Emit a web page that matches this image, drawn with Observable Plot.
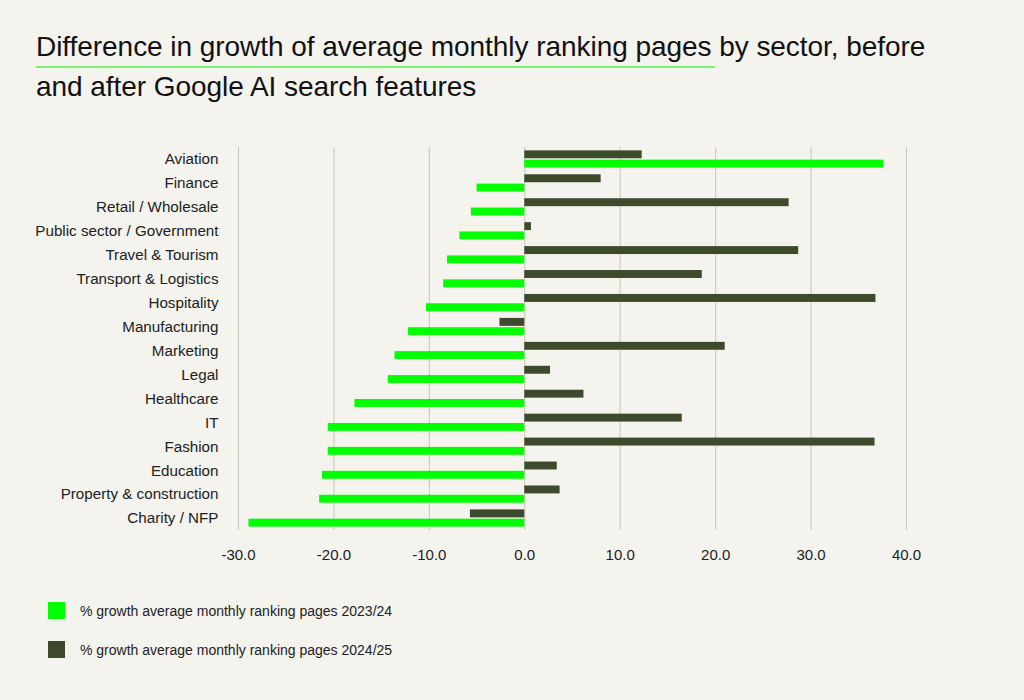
<!DOCTYPE html>
<html>
<head>
<meta charset="utf-8">
<script src="https://cdn.jsdelivr.net/npm/d3@7"></script>
<script src="https://cdn.jsdelivr.net/npm/@observablehq/plot@0.6"></script>
<style>
  html, body { margin: 0; padding: 0; background: #f4f3ee; }
  #page { position: relative; width: 1024px; height: 700px; background: #f4f3ee; font-family: "Liberation Sans", Arial, Helvetica, sans-serif; color: #1a1a1a; overflow: hidden; }
  #title { position: absolute; left: 36px; top: 27px; width: 912px; font-size: 28px; letter-spacing: -0.05px; line-height: 40px; color: #111; }
  #underline { position: absolute; left: 36px; top: 66px; width: 679px; height: 2px; background: #7ef07e; }
  #chart { position: absolute; left: 0; top: 120px; }
  .legend-item { position: absolute; left: 48px; display: flex; align-items: center; font-size: 14px; color: #222; }
  .legend-item .sw { width: 17px; height: 17px; margin-right: 15px; }
</style>
</head>
<body>
<div id="page">
  <div id="title">Difference in growth of average monthly ranking pages by sector, before and after Google AI search features</div>
  <div id="underline"></div>
  <div id="chart"></div>
  <div id="legend"></div>
</div>
<script>
const sectors = ["Aviation", "Finance", "Retail / Wholesale", "Public sector / Government", "Travel & Tourism", "Transport & Logistics", "Hospitality", "Manufacturing", "Marketing", "Legal", "Healthcare", "IT", "Fashion", "Education", "Property & construction", "Charity / NFP"];
const growth2324 = [37.6, -5.0, -5.6, -6.8, -8.1, -8.5, -10.3, -12.2, -13.6, -14.3, -17.8, -20.6, -20.6, -21.2, -21.5, -28.9];
const growth2425 = [12.3, 8.0, 27.7, 0.7, 28.7, 18.6, 36.8, -2.6, 21.0, 2.7, 6.2, 16.5, 36.7, 3.4, 3.7, -5.7];
const seriesNames = ["% growth average monthly ranking pages 2023/24", "% growth average monthly ranking pages 2024/25"];
const seriesColors = ["#00ff00", "#3d4a2b"];
const xTicks = [-30, -20, -10, 0, 10, 20, 30, 40];

const rows2324 = sectors.map((s, i) => ({sector: s, value: growth2324[i]}));
const rows2425 = sectors.map((s, i) => ({sector: s, value: growth2425[i]}));

const chart = Plot.plot({
  width: 1024,
  height: 450,
  marginTop: 27,
  marginBottom: 40,
  marginLeft: 238,
  marginRight: 118,
  style: {background: "transparent", fontFamily: "'Liberation Sans', Arial, Helvetica, sans-serif", fontSize: "15px", color: "#222"},
  x: {domain: [-30, 40], ticks: xTicks, tickFormat: d => d.toFixed(1), label: null},
  y: {domain: sectors, paddingInner: 0.28, paddingOuter: 0.14, round: false, label: null},
  marks: [
    Plot.gridX(xTicks, {stroke: "#c9c8b6", strokeOpacity: 1, strokeWidth: 1}),
    Plot.barX(rows2425, {x: "value", y: "sector", fill: seriesColors[1], insetBottom: 9.3}),
    Plot.barX(rows2324, {x: "value", y: "sector", fill: seriesColors[0], insetTop: 9.3}),
    Plot.axisY({tickSize: 0, tickPadding: 20, fontSize: 15.2, label: null}),
    Plot.axisX({tickSize: 0, tickPadding: 19, fontSize: 15, label: null, tickFormat: d => d.toFixed(1)})
  ]
});
document.getElementById("chart").appendChild(chart);

const legend = document.getElementById("legend");
const legendTops = [602, 641];
seriesNames.forEach((name, i) => {
  const item = document.createElement("div");
  item.className = "legend-item";
  item.style.top = legendTops[i] + "px";
  const sw = document.createElement("div");
  sw.className = "sw";
  sw.style.background = seriesColors[i];
  const t = document.createElement("span");
  t.textContent = name;
  item.appendChild(sw);
  item.appendChild(t);
  legend.appendChild(item);
});
</script>
</body>
</html>
